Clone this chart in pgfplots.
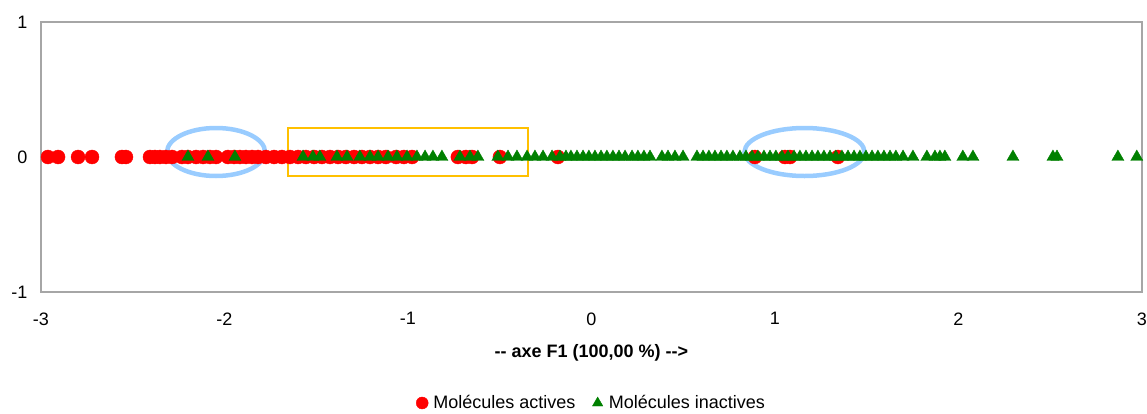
\documentclass[border=0pt]{standalone}
\usepackage{pgfplots}
\pgfplotsset{compat=1.18}
\usepackage{fontspec}
\setmainfont{Liberation Sans}
\definecolor{axgray}{HTML}{A6A6A6}
\definecolor{exgreen}{HTML}{008000}
\definecolor{ellblue}{HTML}{99CCFF}
\definecolor{boxgold}{HTML}{FFC000}
\begin{document}
\begin{tikzpicture}
\useasboundingbox (-41pt,-122pt) rectangle (1106pt,292pt);
\begin{axis}[
  at={(0pt,0pt)}, anchor=south west,
  scale only axis, width=1101pt, height=270pt,
  xmin=-3, xmax=3, ymin=-1, ymax=1,
  xtick={-3,-2,-1,0,1,2,3}, xticklabels={-3,-2,-1,0,1,2,3},
  ytick={-1,0,1}, yticklabels={-1,0,1},
  major tick length=0pt,
  axis line style={axgray, line width=1.2pt},
  tick label style={font=\fontsize{18}{22}\selectfont},
  xticklabel style={yshift=-17pt},
  yticklabel style={xshift=-10pt},
  xlabel={\textbf{-{}- axe F1 (100,00 \%) -{}->}},
  xlabel style={font=\fontsize{18}{22}\selectfont, at={(axis description cs:0.5,0)}, anchor=center, yshift=-61pt},
  legend style={at={(axis description cs:0.5,0)}, anchor=center, yshift=-111pt, draw=none, fill=none,
    font=\fontsize{18}{20}\selectfont, legend columns=2, inner sep=0pt,
    /tikz/every even column/.append style={column sep=14pt}},
  legend image code/.code={\path (-6pt,0pt) (9pt,0pt); \draw[#1] plot coordinates {(0pt,0pt)};},
  legend image post style={mark size=6pt},
  clip=false,
]
\addplot[only marks, mark=*, mark size=7pt, color=red, mark options={fill=red, draw=red}] coordinates {
(-2.962,0) (-2.907,0) (-2.798,0) (-2.722,0) (-2.559,0) (-2.537,0)
(-2.406,0) (-2.379,0) (-2.352,0) (-2.319,0) (-2.286,0) (-2.232,0)
(-2.199,0) (-2.155,0) (-2.117,0) (-2.079,0) (-2.046,0) (-1.981,0)
(-1.948,0) (-1.916,0) (-1.883,0) (-1.850,0) (-1.817,0) (-1.774,0)
(-1.730,0) (-1.687,0) (-1.643,0) (-1.599,0) (-1.556,0) (-1.512,0)
(-1.469,0) (-1.425,0) (-1.381,0) (-1.338,0) (-1.294,0) (-1.251,0)
(-1.207,0) (-1.163,0) (-1.120,0) (-1.065,0) (-1.022,0) (-0.978,0)
(-0.728,0) (-0.684,0) (-0.651,0) (-0.499,0) (-0.183,0)
(0.891,0) (1.054,0) (1.082,0) (1.343,0)
};
\addlegendentry{Molécules actives}
\addplot[only marks, mark=triangle*, mark size=7pt, color=exgreen, mark options={fill=exgreen, draw=exgreen}] coordinates {
(-2.199,0) (-2.090,0) (-1.943,0) (-1.572,0) (-1.518,0) (-1.480,0)
(-1.387,0) (-1.332,0) (-1.262,0) (-1.207,0) (-1.163,0) (-1.109,0)
(-1.060,0) (-1.005,0) (-0.951,0) (-0.907,0) (-0.864,0) (-0.815,0)
(-0.717,0) (-0.662,0) (-0.619,0) (-0.510,0) (-0.455,0) (-0.406,0)
(-0.351,0) (-0.308,0) (-0.264,0) (-0.215,0)
(-0.172,0) (-0.139,0) (-0.112,0) (-0.079,0) (-0.046,0) (-0.014,0)
(0.019,0) (0.052,0) (0.084,0) (0.117,0) (0.150,0) (0.183,0)
(0.221,0) (0.253,0) (0.286,0) (0.319,0) (0.384,0) (0.417,0)
(0.455,0) (0.499,0) (0.575,0) (0.608,0) (0.640,0) (0.673,0)
(0.706,0) (0.738,0) (0.771,0) (0.809,0) (0.842,0) (0.875,0)
(0.907,0) (0.940,0) (0.973,0) (1.005,0) (1.038,0) (1.071,0)
(1.104,0) (1.136,0) (1.169,0) (1.202,0) (1.234,0) (1.267,0)
(1.300,0) (1.332,0) (1.365,0) (1.398,0) (1.431,0) (1.463,0)
(1.496,0) (1.529,0) (1.561,0) (1.594,0) (1.627,0) (1.659,0)
(1.698,0) (1.752,0) (1.828,0) (1.872,0) (1.899,0) (1.926,0)
(2.024,0) (2.079,0) (2.297,0) (2.515,0) (2.537,0) (2.869,0) (2.972,0)
};
\addlegendentry{Molécules inactives}
\draw[ellblue, line width=4.5pt] (axis cs:-2.046,0.037) ellipse [x radius=49pt, y radius=24pt];
\draw[ellblue, line width=4.5pt] (axis cs:1.161,0.037) ellipse [x radius=60pt, y radius=24pt];
\draw[boxgold, line width=2pt] (axis cs:-1.654,-0.141) rectangle (axis cs:-0.346,0.215);
\end{axis}
\end{tikzpicture}
\end{document}
